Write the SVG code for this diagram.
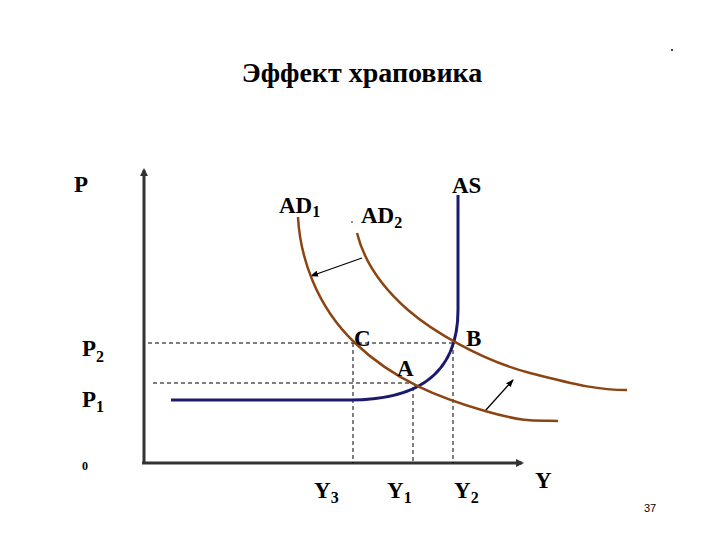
<svg xmlns="http://www.w3.org/2000/svg" width="720" height="540" viewBox="0 0 720 540">
<style>
.lbl{font-family:'Liberation Serif','DejaVu Serif',serif;font-weight:bold;font-size:23px;fill:#000}
.sub{font-size:16px}
.title{font-family:'Liberation Serif','DejaVu Serif',serif;font-weight:bold;font-size:28px;fill:#000}
.dash{stroke:#000;stroke-width:1;stroke-dasharray:4,3;fill:none}
.ad{stroke:#8B4513;stroke-width:2.5;fill:none}
.as{stroke:#1a1a6e;stroke-width:3;fill:none}
.axis{stroke:#333;stroke-width:3;fill:none}
.shift{stroke:#000;stroke-width:1.3;fill:none}
</style>
<defs>
<marker id="axh" markerWidth="8" markerHeight="8" refX="6" refY="4" orient="auto" markerUnits="userSpaceOnUse">
<path d="M0,0 L8,4 L0,8 Z" fill="#333"/>
</marker>
<marker id="sh" markerWidth="8" markerHeight="8" refX="7" refY="4" orient="auto" markerUnits="userSpaceOnUse">
<path d="M0,1 L8,4 L0,7 Z" fill="#000"/>
</marker>
</defs>
<rect width="720" height="540" fill="#fff"/>
<text class="title" x="362" y="82" text-anchor="middle">Эффект храповика</text>
<circle cx="672" cy="50" r="1" fill="#000"/>
<g id="connectors">
<line class="axis" x1="144" y1="464" x2="144" y2="170" marker-end="url(#axh)"/>
<line class="axis" x1="142" y1="463" x2="522" y2="463" marker-end="url(#axh)"/>
<line class="dash" x1="148" y1="343" x2="453" y2="343"/>
<line class="dash" x1="153" y1="383" x2="410" y2="383"/>
<line class="dash" x1="353" y1="343" x2="353" y2="463"/>
<line class="dash" x1="413" y1="387" x2="413" y2="463"/>
<line class="dash" x1="453" y1="343" x2="453" y2="463"/>
<line class="shift" x1="362" y1="258" x2="311" y2="276" marker-end="url(#sh)"/>
<line class="shift" x1="485" y1="411" x2="513" y2="380" marker-end="url(#sh)"/>
</g>
<g id="AS">
<path class="as" d="M171,400 L350,400 C410,400 458,380 458,310 L458,195"/>
<text class="lbl" x="452" y="193">AS</text>
</g>
<g id="AD1">
<path class="ad" d="M298,217 C300,255 315,305 355,343 S440,398 485,411 S540,420 558,421"/>
<text class="lbl" x="279" y="213">AD<tspan class="sub" dy="4">1</tspan></text>
</g>
<g id="AD2">
<path class="ad" d="M357,233 C365,265 385,290 408,310 C431,330 480,360 530,373 S600,390 627,390"/>
<circle cx="352" cy="222" r="0.8" fill="#000"/>
<text class="lbl" x="361" y="223">AD<tspan class="sub" dy="5">2</tspan></text>
</g>
<g id="points">
<text class="lbl" x="354" y="346">C</text>
<text class="lbl" x="466" y="346">B</text>
<text class="lbl" x="397" y="376">A</text>
</g>
<g id="axis-labels">
<text class="lbl" x="74" y="192">P</text>
<text class="lbl" x="82" y="356">P<tspan class="sub" dy="6">2</tspan></text>
<text class="lbl" x="82" y="407">P<tspan class="sub" dy="5">1</tspan></text>
<text class="lbl" x="82" y="470" style="font-size:12px">0</text>
<text class="lbl" x="314" y="498">Y<tspan class="sub" dy="5">3</tspan></text>
<text class="lbl" x="387" y="498">Y<tspan class="sub" dy="5">1</tspan></text>
<text class="lbl" x="454" y="498">Y<tspan class="sub" dy="5">2</tspan></text>
<text class="lbl" x="535" y="488">Y</text>
</g>
<text x="644" y="512" style="font-family:'Liberation Sans',Arial,sans-serif;font-size:11px;fill:#000">37</text>
</svg>
